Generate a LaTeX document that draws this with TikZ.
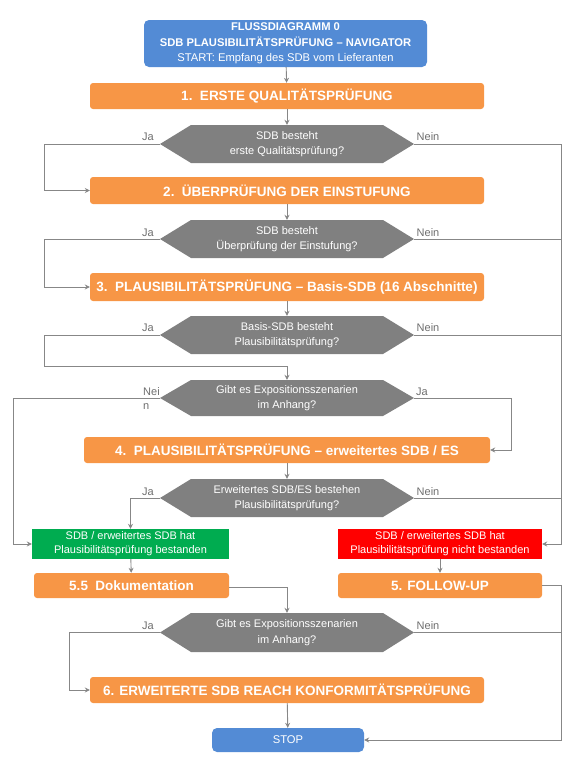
\documentclass[tikz,border=0pt]{standalone}
\usepackage{fontspec}
\setmainfont{Liberation Sans}
\usetikzlibrary{arrows.meta,calc}
\definecolor{orangebox}{RGB}{247,150,70}
\definecolor{bluebox}{RGB}{83,139,213}
\definecolor{greenbox}{RGB}{0,172,80}
\definecolor{redbox}{RGB}{255,0,0}
\definecolor{hexgray}{RGB}{128,128,128}
\definecolor{linegray}{RGB}{135,135,135}
\definecolor{labelgray}{RGB}{110,110,110}
\tikzset{
  stepbox/.style={fill=orangebox, rounded corners=3pt, text=white, font=\bfseries\fontsize{13.5}{15}\selectfont, minimum height=26pt, inner sep=0pt, align=center},
  startbox/.style={fill=bluebox, rounded corners=5pt, text=white, font=\fontsize{11.2}{15.5}\selectfont, inner sep=0pt, align=center},
  resbox/.style={text=white, font=\fontsize{11}{14}\selectfont, minimum height=30pt, inner sep=0pt, align=center},
  hexnode/.style={minimum width=254pt, minimum height=38pt, inner sep=0pt, text=white, font=\fontsize{11}{15.5}\selectfont, align=center,
    path picture={\fill[hexgray] (path picture bounding box.west) -- ([xshift=31pt]path picture bounding box.north west) -- ([xshift=-31pt]path picture bounding box.north east) -- (path picture bounding box.east) -- ([xshift=-31pt]path picture bounding box.south east) -- ([xshift=31pt]path picture bounding box.south west) -- cycle;}},
  lbl/.style={text=labelgray, font=\fontsize{11}{14}\selectfont, inner sep=0pt},
  conn/.style={draw=linegray, line width=0.9pt},
  arr/.style={conn, -{Stealth[length=5pt,width=5pt]}}
}
\begin{document}
\begin{tikzpicture}[x=1pt,y=-1pt]
\useasboundingbox (0,0) rectangle (588,766);
% nodes
\node[startbox, minimum width=283pt, minimum height=47pt] (start) at (285.5,43.5) {\textbf{FLUSSDIAGRAMM 0}\\ \textbf{SDB PLAUSIBILITÄTSPRÜFUNG – NAVIGATOR}\\ START: Empfang des SDB vom Lieferanten};
\node[stepbox, minimum width=394pt] (b1) at (287,96) {1.\ \ ERSTE QUALITÄTSPRÜFUNG};
\node[hexnode] (h1) at (287,144) {SDB besteht\\ erste Qualitätsprüfung?};
\node[stepbox, minimum width=394pt, minimum height=27pt] (b2) at (287,190.5) {2.\ \ ÜBERPRÜFUNG DER EINSTUFUNG};
\node[hexnode] (h2) at (287,239) {SDB besteht\\ Überprüfung der Einstufung?};
\node[stepbox, minimum width=394pt, minimum height=28pt] (b3) at (287,287) {3.\ \ PLAUSIBILITÄTSPRÜFUNG – Basis-SDB (16 Abschnitte)};
\node[hexnode] (h3) at (287,335) {Basis-SDB besteht\\ Plausibilitätsprüfung?};
\node[hexnode, minimum height=36pt] (h4) at (287,398) {Gibt es Expositionsszenarien\\ im Anhang?};
\node[stepbox, minimum width=406pt] (b4) at (287,450) {4.\ \ PLAUSIBILITÄTSPRÜFUNG – erweitertes SDB / ES};
\node[hexnode] (h5) at (287,498) {Erweitertes SDB/ES bestehen\\ Plausibilitätsprüfung?};
\node[resbox, fill=greenbox, minimum width=197pt] (pass) at (130.5,544) {SDB / erweitertes SDB hat\\ Plausibilitätsprüfung bestanden};
\node[resbox, fill=redbox, minimum width=204pt] (fail) at (440,544) {SDB / erweitertes SDB hat\\ Plausibilitätsprüfung nicht bestanden};
\node[stepbox, minimum width=195pt, minimum height=25pt] (doc) at (131.5,585.5) {5.5\ \ Dokumentation};
\node[stepbox, minimum width=204pt, minimum height=25pt] (fu) at (440,585.5) {5. FOLLOW-UP};
\node[hexnode, minimum height=39pt] (h6) at (287,632.5) {Gibt es Expositionsszenarien\\ im Anhang?};
\node[stepbox, minimum width=394pt] (b6) at (287,690) {6. ERWEITERTE SDB REACH KONFORMITÄTSPRÜFUNG};
\node[startbox, minimum width=152pt, minimum height=24pt] (stop) at (288,740) {STOP};
% labels
\node[lbl] (l1j) at (148,137) {Ja};
\node[lbl] (l1n) at (428,137) {Nein};
\node[lbl] (l2j) at (148,233) {Ja};
\node[lbl] (l2n) at (428,233) {Nein};
\node[lbl] (l3j) at (148,328) {Ja};
\node[lbl] (l3n) at (428,328) {Nein};
\node[lbl, align=left, anchor=west] (l4n) at (143,399) {Nei\\ n};
\node[lbl] (l4j) at (422,392) {Ja};
\node[lbl] (l5j) at (148,492) {Ja};
\node[lbl] (l5n) at (428,492) {Nein};
\node[lbl] (l6j) at (148,626) {Ja};
\node[lbl] (l6n) at (428,626) {Nein};
% coordinates for routing
\coordinate (rx) at (561,0);
\coordinate (lx) at (44,0);
\coordinate (llx) at (13,0);
% connectors
\draw[arr] (start) -- (b1);
\draw[arr] (b1) -- (h1);
\draw[arr] (b2) -- (h2);
\draw[arr] (b3) -- (h3);
\draw[arr] (b4) -- (h5);
\draw[arr] (pass) -- (doc);
\draw[arr] (fail) -- (fu);
\draw[arr] (b6) -- (stop);
% Ja branches
\draw[arr] (h1.west) -- (h1.west -| lx) |- (b2.west);
\draw[arr] (h2.west) -- (h2.west -| lx) |- (b3.west);
\coordinate (j3) at (44,366);
\draw[arr] (h3.west) -- (h3.west -| lx) -- (j3) -- (j3 -| h4.north) -- (h4.north);
\coordinate (j4) at (511,0);
\draw[arr] (h4.east) -- (h4.east -| j4) |- (b4.east);
\draw[arr] (h5.west) -| (pass.north);
\coordinate (j6) at (69,0);
\draw[arr] (h6.west) -- (h6.west -| j6) |- (b6.west);
% Nein branches
\draw[arr] (h4.west) -- (h4.west -| llx) |- (pass.west);
\draw[arr] (h1.east) -- (h1.east -| rx) |- (fail.east);
\draw[conn] (h2.east) -- (h2.east -| rx);
\draw[conn] (h3.east) -- (h3.east -| rx);
\draw[conn] (h5.east) -- (h5.east -| rx);
\draw[arr] (fu.east) -- (fu.east -| rx) |- (stop.east);
\draw[conn] (h6.east) -- (h6.east -| rx);
\coordinate (d6) at (287,587);
\draw[arr] (doc.east |- d6) -- (d6) -- (h6.north);
\end{tikzpicture}
\end{document}
